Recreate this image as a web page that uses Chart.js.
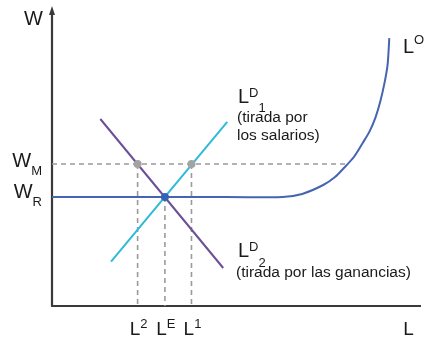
<!DOCTYPE html>
<html><head><meta charset="utf-8">
<script src="https://cdn.jsdelivr.net/npm/chart.js@4.4.1/dist/chart.umd.min.js"></script>
<style>html,body{margin:0;padding:0;background:#fff}#wrap{width:425px;height:340px;position:relative}</style>
</head><body><div id="wrap"><canvas id="c" width="425" height="340"></canvas></div>
<script>
// ---- data (abstract units: L 0..100, W 0..100) ----
const wR = 36.6;            // reservation wage
const wM = 47.65;           // minimum wage
const xL2 = 23.2, xLE = 30.6, xL1 = 37.8;
const supplyX = [0, 40, 62.5, 67.8, 73.5, 76.7, 79.1, 81.8, 84.2, 86.1, 87.7, 89.0, 90.1, 90.9, 91.2, 91.4];
const supplyY = [wR, wR, wR, 37.6, 40.6, 43.3, 46.3, 50.0, 54.7, 58.7, 63.4, 68.8, 74.8, 80.5, 85.2, 89.9];
const demand1X = [16, 47.5];
const demand1Y = [14.9, 61.8];
const demand2X = [13.1, 46.4];
const demand2Y = [62.75, 12.75];
const wMLineEnd = 79.8;
const xTickValues = [xL2, xLE, xL1];
const xTickBase = ['L', 'L', 'L'];
const xTickSup = ['2', 'E', '1'];
const yTickValues = [wM, wR];
const yTickBase = ['W', 'W'];
const yTickSub = ['M', 'R'];
const xTitle = 'L', yTitle = 'W';
const supplyLabel = ['L', 'O'];
const demand1Label = ['L', 'D', '1', '(tirada por', 'los salarios)'];
const demand2Label = ['L', 'D', '2', '(tirada por las ganancias)'];

const pts = (xs, ys) => xs.map((x, i) => ({x, y: ys[i]}));
const FONT = "'Liberation Sans', Arial, Helvetica, sans-serif";
const TXT = '#1a1a1a';

function rich(ctx, x, y, parts, align) {
  let w = 0;
  parts.forEach(p => { ctx.font = p.size + 'px ' + FONT; p.w = ctx.measureText(p.t).width; w += p.w; });
  let cx = align === 'center' ? x - w / 2 : align === 'right' ? x - w : x;
  ctx.textAlign = 'left'; ctx.textBaseline = 'alphabetic'; ctx.fillStyle = TXT;
  parts.forEach(p => { ctx.font = p.size + 'px ' + FONT; ctx.fillText(p.t, cx, y + (p.dy || 0)); cx += p.w; });
}

const axesPlugin = {
  id: 'axesPlugin',
  beforeDatasetsDraw(chart) {
    const {ctx, chartArea: a, scales: {x, y}} = chart;
    const x0 = x.getPixelForValue(0), y0 = y.getPixelForValue(0);
    ctx.save();
    ctx.strokeStyle = '#3a3a3a'; ctx.lineWidth = 2.2;
    ctx.beginPath(); ctx.moveTo(x0, y0); ctx.lineTo(x0, a.top + 4); ctx.stroke();
    ctx.beginPath(); ctx.moveTo(x0 - 1, y0); ctx.lineTo(a.right, y0); ctx.stroke();
    ctx.fillStyle = '#3a3a3a';
    ctx.beginPath(); ctx.moveTo(x0, a.top - 2); ctx.lineTo(x0 - 3, a.top + 7); ctx.lineTo(x0 + 3, a.top + 7); ctx.closePath(); ctx.fill();
    ctx.restore();
  },
  afterDraw(chart) {
    const {ctx, scales: {x, y}} = chart;
    ctx.save();
    xTickValues.forEach((v, i) => {
      rich(ctx, x.getPixelForValue(v) + 1, 335, [
        {t: xTickBase[i], size: 19},
        {t: xTickSup[i], size: 13, dy: -7}], 'center');
    });
    rich(ctx, x.getPixelForValue(95.2), 335, [{t: xTitle, size: 19}], 'left');
    yTickValues.forEach((v, i) => {
      rich(ctx, 42, y.getPixelForValue(v) + (i === 0 ? 3 : 1.5), [
        {t: yTickBase[i], size: 20},
        {t: yTickSub[i], size: 13, dy: 8}], 'right');
    });
    rich(ctx, 43, 25, [{t: yTitle, size: 20}], 'right');
    rich(ctx, 403, 53, [{t: supplyLabel[0], size: 20}, {t: supplyLabel[1], size: 13, dy: -9}], 'left');
    rich(ctx, 238, 103, [{t: demand1Label[0], size: 20}, {t: demand1Label[1], size: 13, dy: -6}, {t: demand1Label[2], size: 13, dy: 9}], 'left');
    rich(ctx, 237, 122, [{t: demand1Label[3], size: 15.5}], 'left');
    rich(ctx, 237, 140, [{t: demand1Label[4], size: 15.5}], 'left');
    rich(ctx, 238, 257, [{t: demand2Label[0], size: 20}, {t: demand2Label[1], size: 13, dy: -6}, {t: demand2Label[2], size: 13, dy: 10}], 'left');
    rich(ctx, 236, 277, [{t: demand2Label[3], size: 15.5}], 'left');
    ctx.restore();
  }
};

const dash = {borderColor: '#9a9a9a', borderWidth: 1.6, borderDash: [5, 4], pointRadius: 0, fill: false, order: 3};

new Chart(document.getElementById('c'), {
  type: 'scatter',
  data: {
    datasets: [
      Object.assign({label: 'wM', data: [{x: 0, y: wM}, {x: wMLineEnd, y: wM}], showLine: true}, dash),
      Object.assign({label: 'vL2', data: [{x: xL2, y: wM}, {x: xL2, y: 0}], showLine: true}, dash),
      Object.assign({label: 'vLE', data: [{x: xLE, y: wR}, {x: xLE, y: 0}], showLine: true}, dash),
      Object.assign({label: 'vL1', data: [{x: xL1, y: wM}, {x: xL1, y: 0}], showLine: true}, dash),
      {label: 'LO', data: pts(supplyX, supplyY), showLine: true, borderColor: '#4565b0', borderWidth: 2, pointRadius: 0, tension: 0.3, cubicInterpolationMode: 'default', fill: false, order: 2},
      {label: 'LD2', data: pts(demand2X, demand2Y), showLine: true, borderColor: '#6b4f98', borderWidth: 2, pointRadius: 0, fill: false, order: 2},
      {label: 'LD1', data: pts(demand1X, demand1Y), showLine: true, borderColor: '#2fbad8', borderWidth: 2, pointRadius: 0, fill: false, order: 1},
      {label: 'gray', data: [{x: xL2, y: wM}, {x: xL1, y: wM}], showLine: false, pointRadius: 4, pointBackgroundColor: '#a3a3a3', pointBorderWidth: 0, order: 0},
      {label: 'eq', data: [{x: xLE, y: wR}], showLine: false, pointRadius: 4, pointBackgroundColor: '#3563b3', pointBorderWidth: 0, order: 0}
    ]
  },
  options: {
    responsive: false,
    animation: false,
    layout: {padding: {left: 52, right: 0, top: 8, bottom: 34}},
    plugins: {legend: {display: false}, tooltip: {enabled: false}},
    scales: {
      x: {type: 'linear', min: 0, max: 100, display: false},
      y: {type: 'linear', min: 0, max: 100, display: false}
    }
  },
  plugins: [axesPlugin]
});
</script>
</body></html>
